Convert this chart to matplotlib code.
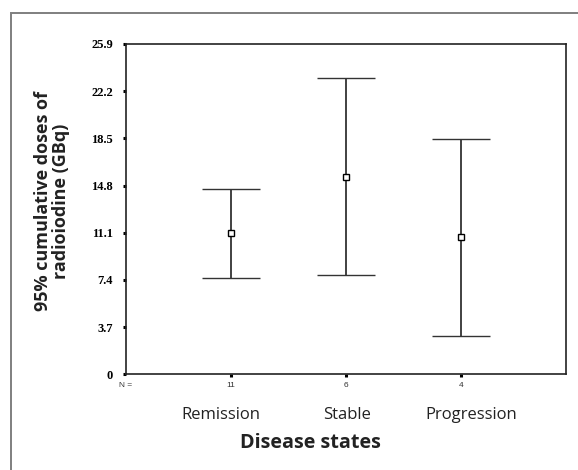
import matplotlib.pyplot as plt
from matplotlib.patches import Rectangle

categories = ["Remission", "Stable", "Progression"]
n_counts = ["11", "6", "4"]
means = [11.05, 15.44, 10.73]
lower = [7.59, 7.75, 2.98]
upper = [14.56, 23.22, 18.43]
yticks = [0, 3.7, 7.4, 11.1, 14.8, 18.5, 22.2, 25.9]

fig = plt.figure(figsize=(5.78, 4.70), dpi=100)
ax = fig.add_axes([0.2175, 0.2036, 0.7617, 0.7028])

# outer grey frame, runs off the right and bottom edge
fig.patches.append(Rectangle((11 / 578, -0.1), 1.2, 1 - 13 / 470 + 0.1,
                             transform=fig.transFigure, fill=False,
                             edgecolor="#7f7f7f", linewidth=1.4))

x = [i + 1 for i in range(len(categories))]
err_lo = [m - l for m, l in zip(means, lower)]
err_hi = [u - m for m, u in zip(means, upper)]
ax.errorbar(x, means, yerr=[err_lo, err_hi], fmt="s", color="#333333",
            ecolor="#333333", elinewidth=1.3, capsize=20.9, capthick=1.3,
            markersize=5, markerfacecolor="white", markeredgecolor="black",
            markeredgewidth=1.0)

ax.set_xlim(0.084, 3.913)
ax.set_ylim(0, 25.9)
ax.set_yticks(yticks)
ax.set_yticklabels([("%g" % v) if v else "0" for v in yticks],
                   fontfamily="Liberation Serif", fontweight="bold", fontsize=9)
ax.set_xticks(x)
ax.set_xticklabels(n_counts, fontfamily="Liberation Sans", fontsize=6, color="#333333")
ax.tick_params(axis="y", direction="out", length=2.2, width=2.2, pad=7)
ax.tick_params(axis="x", direction="out", length=2.2, width=2.2, pad=3.5)
for s in ax.spines.values():
    s.set_linewidth(1.2)
    s.set_color("#222222")

ax.text(0.084, -0.033, "N =", transform=ax.get_xaxis_transform(), ha="center",
        va="center", fontfamily="Liberation Sans", fontsize=6, color="#333333")

offsets = [-0.09, 0.01, 0.09]
for xi, name, off in zip(x, categories, offsets):
    ax.text(xi + off, -0.123, name, transform=ax.get_xaxis_transform(),
            ha="center", va="center", fontfamily="Open Sans", fontsize=12,
            color="#222222")

fig.text(310 / 578, 1 - 442.7 / 470, "Disease states", ha="center", va="center",
         fontfamily="Open Sans", fontweight="bold", fontsize=14.2, color="#222222")
fig.text(52 / 578, 1 - 201 / 470, "95% cumulative doses of\nradioiodine (GBq)",
         rotation=90, ha="center", va="center", multialignment="center",
         fontfamily="Open Sans", fontweight="bold", fontsize=13, color="#222222",
         linespacing=1.05)

fig.savefig("out.png", dpi=100)
